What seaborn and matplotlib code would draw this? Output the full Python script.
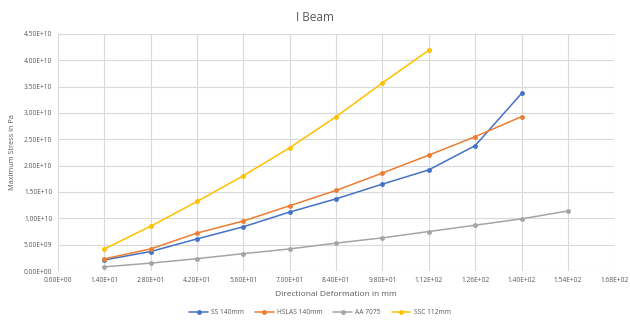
import numpy as np
import pandas as pd
import seaborn as sns
import matplotlib
matplotlib.use("Agg")
import matplotlib.pyplot as plt
from matplotlib.ticker import FuncFormatter, MultipleLocator

deformation = [14, 28, 42, 56, 70, 84, 98, 112, 126, 140, 154]

ss_140 = [2.1e9, 3.7e9, 6.1e9, 8.4e9, 11.2e9, 13.7e9, 16.5e9, 19.2e9, 23.8e9, 33.7e9]
hslas_140 = [2.3e9, 4.2e9, 7.2e9, 9.5e9, 12.4e9, 15.3e9, 18.6e9, 22.0e9, 25.5e9, 29.3e9]
aa_7075 = [0.8e9, 1.5e9, 2.35e9, 3.3e9, 4.2e9, 5.3e9, 6.3e9, 7.5e9, 8.7e9, 9.9e9, 11.4e9]
ssc_112 = [4.2e9, 8.5e9, 13.2e9, 18.1e9, 23.4e9, 29.3e9, 35.7e9, 41.9e9]

series_names = ["SS 140mm", "HSLAS 140mm", "AA 7075", "SSC 112mm"]
series_values = [ss_140, hslas_140, aa_7075, ssc_112]
colors = ["#4472C4", "#ED7D31", "#A5A5A5", "#FFC000"]

rows = []
for name, vals in zip(series_names, series_values):
    for x, y in zip(deformation, vals):
        rows.append({"Deformation": x, "Stress": y, "Series": name})
df = pd.DataFrame(rows)

sns.set_theme(style="white")
plt.rcParams['font.family'] = ['Open Sans', 'DejaVu Sans']

fig = plt.figure(figsize=(6.3, 3.2), dpi=100)
ax = fig.add_axes([0.092, 0.153, 0.883, 0.741])

sns.lineplot(data=df, x="Deformation", y="Stress", hue="Series",
             hue_order=series_names, palette=colors, marker="o",
             markersize=3.5, markeredgewidth=0, linewidth=1.1, ax=ax,
             sort=False, legend=True)

ax.set_xlim(0, 168)
ax.set_ylim(0, 4.5e10)
ax.xaxis.set_major_locator(MultipleLocator(14))
ax.yaxis.set_major_locator(MultipleLocator(5e9))
fmt = FuncFormatter(lambda v, p: f"{v:.2E}")
ax.xaxis.set_major_formatter(fmt)
ax.yaxis.set_major_formatter(fmt)
ax.grid(True, color="#D9D9D9", linewidth=0.8)
ax.set_axisbelow(True)
for s in ax.spines.values():
    s.set_visible(False)
ax.tick_params(axis="both", length=0, labelsize=4.8, colors="#595959", pad=4)

ax.set_xlabel("Directional Deformation in mm", fontsize=6, color="#595959", labelpad=5)
ax.set_ylabel("Maximum Stress in Pa", fontsize=5.2, color="#595959", labelpad=6)
fig.text(0.5, 0.945, "I Beam", ha="center", va="center", fontsize=8.5, color="#595959")

handles, labels = ax.get_legend_handles_labels()
ax.get_legend().remove()
fig.legend(handles, labels, loc="center", bbox_to_anchor=(0.508, 0.022),
           ncol=4, frameon=False, fontsize=4.8, labelcolor="#595959",
           handlelength=2.8, columnspacing=1.6, handletextpad=0.5,
           borderpad=0.1)

fig.savefig("out.png", dpi=100, facecolor="white")
